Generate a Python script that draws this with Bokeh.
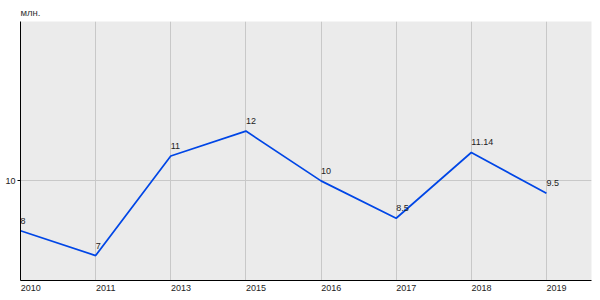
from bokeh.plotting import figure
from bokeh.models import ColumnDataSource, FixedTicker, Range1d, LinearAxis
from bokeh.core.properties import value
from bokeh.embed import file_html
from bokeh.resources import INLINE

years = ["2010", "2011", "2013", "2015", "2016", "2017", "2018", "2019"]
values = [8, 7, 11, 12, 10, 8.5, 11.14, 9.5]
labels = ["8", "7", "11", "12", "10", "8.5", "11.14", "9.5"]

X_END = 7.6
idx = list(range(len(years)))
src = ColumnDataSource(dict(x=idx, y=values, t=labels))

p = figure(width=600, height=300, output_backend="svg", toolbar_location=None,
           x_range=Range1d(0, X_END), y_range=Range1d(6, 16.4),
           min_border_left=20, min_border_right=9, min_border_bottom=20, min_border_top=0)
p.title.text = "млн."
p.title.text_font = "Liberation Sans"
p.title.text_font_size = "9.5px"
p.title.text_font_style = "normal"
p.title.text_color = "#333333"
p.title.align = "left"
p.title.offset = 0
p.title.standoff = 8
p.outline_line_color = None
p.background_fill_color = "#ebebeb"
p.border_fill_color = "white"

p.line("x", "y", source=src, line_color="#0046e6", line_width=1.7)
p.text("x", "y", text="t", source=src, x_offset=0, y_offset=-7,
       text_baseline="bottom", text_align="left", text_font_size="9px",
       text_font=value("Liberation Sans"), text_color="#222222")

# main x axis hidden; labels drawn by a shifted axis so they start at each gridline
p.xaxis.visible = False
shift = 0.135
p.extra_x_ranges = {"lab": Range1d(-shift, X_END - shift)}
xa = LinearAxis(x_range_name="lab", ticker=FixedTicker(ticks=idx),
                major_label_overrides={i: y for i, y in enumerate(years)},
                major_tick_out=0, major_tick_in=0, minor_tick_line_color=None,
                axis_line_color="black", major_label_standoff=4,
                major_label_text_font="Liberation Sans", major_label_text_font_size="9px",
                major_label_text_color="#222222")
p.add_layout(xa, "below")

p.yaxis.ticker = FixedTicker(ticks=[10])
p.yaxis.major_tick_out = 3
p.yaxis.major_tick_in = 0
p.yaxis.minor_tick_line_color = None
p.yaxis.axis_line_color = "black"
p.yaxis.major_label_standoff = 2
p.yaxis.major_label_text_font = "Liberation Sans"
p.yaxis.major_label_text_font_size = "9px"
p.yaxis.major_label_text_color = "#222222"

p.xgrid.ticker = FixedTicker(ticks=idx)
p.xgrid.grid_line_color = "#c8c8c8"
p.ygrid.grid_line_color = "#c8c8c8"

open("out.html", "w").write(file_html(p, INLINE))
